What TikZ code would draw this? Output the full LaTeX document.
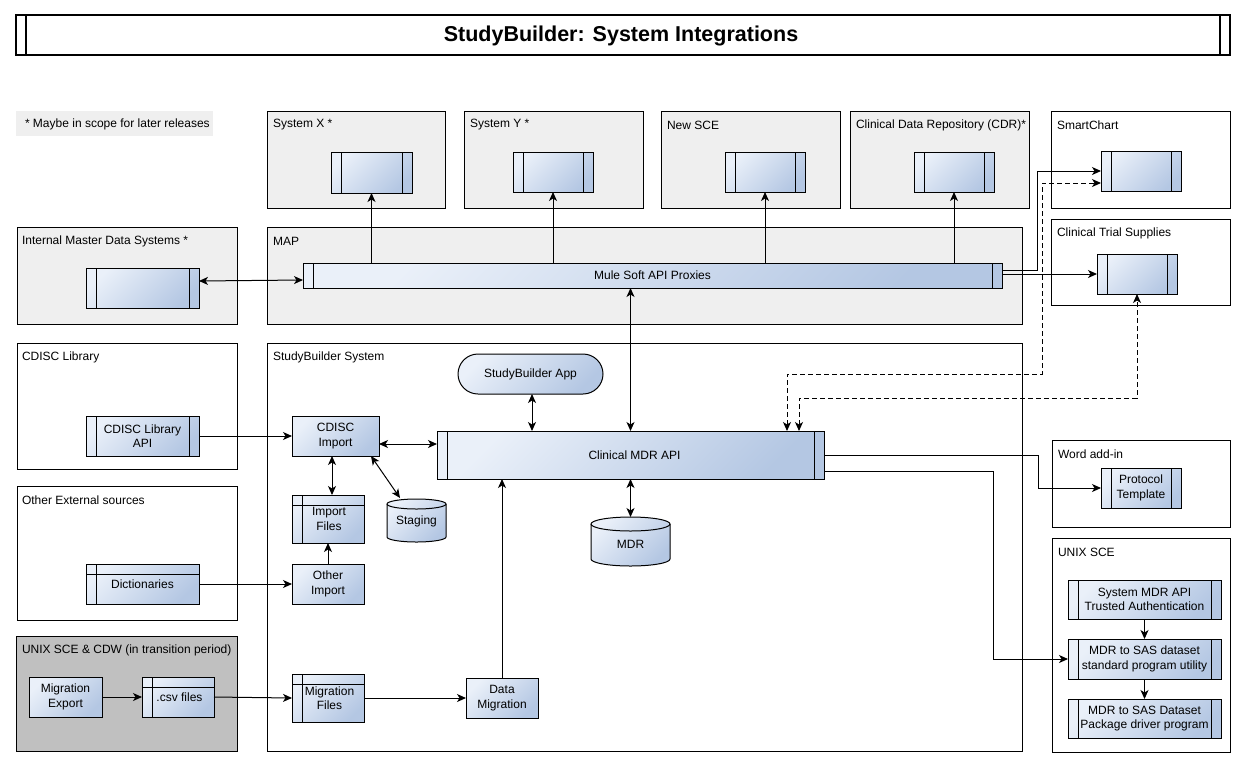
\documentclass[tikz,border=0pt]{standalone}
\usepackage{fontspec}
\setmainfont{Liberation Sans}
\usetikzlibrary{arrows.meta,calc}
\definecolor{compL}{RGB}{234,240,249}
\definecolor{compD}{RGB}{180,199,227}
\definecolor{boxgray}{RGB}{239,239,239}
\definecolor{unixgray}{RGB}{192,192,192}
\begin{document}
\begin{tikzpicture}[x=1pt,y=-1pt,
  every node/.style={font=\fontsize{12}{14.5}\selectfont, inner sep=0pt, outer sep=0pt},
  frame/.style={draw, line width=1pt},
  grayframe/.style={frame, fill=boxgray},
  lbl/.style={anchor=west, align=left},
  grad/.style={top color=compL, bottom color=compD, shading angle=45},
  proc/.style={draw, line width=1pt, grad, align=center, path picture={
     \draw[line width=1pt] ([xshift=10pt]path picture bounding box.north west) -- ([xshift=10pt]path picture bounding box.south west);
     \draw[line width=1pt] ([xshift=-10pt]path picture bounding box.north east) -- ([xshift=-10pt]path picture bounding box.south east);}},
  storebox/.style={draw, line width=1pt, grad, align=center, path picture={
     \draw[line width=1pt] ([xshift=10pt]path picture bounding box.north west) -- ([xshift=10pt]path picture bounding box.south west);
     \draw[line width=1pt] ([yshift=-10pt]path picture bounding box.north west) -- ([yshift=-10pt]path picture bounding box.north east);}},
  plainbox/.style={draw, line width=1pt, grad, align=center},
  stadium/.style={draw, line width=1pt, grad, align=center, rounded corners=20pt},
  >={Stealth[length=9pt,width=8pt,inset=2.5pt]},
  conn/.style={line width=1pt},
  dconn/.style={line width=1pt, dash pattern=on 5pt off 3pt}
]
\useasboundingbox (0,0) rectangle (1246,766);

% ---------- title ----------
\draw[line width=1.3pt] (16,15) rectangle (1230,55);
\draw[line width=1.3pt] (26,15) -- (26,55);
\draw[line width=1.3pt] (1220,15) -- (1220,55);
\node[font=\fontsize{21.5}{24}\selectfont\bfseries] (title) at (621,36) {StudyBuilder: System Integrations};

% ---------- note ----------
\fill[boxgray] (16,111) rectangle (213,136);
\node[lbl] (notetxt) at (25,124) {* Maybe in scope for later releases};

% ---------- containers ----------
\draw[grayframe] (267,111) rectangle (445,208);
\node[lbl] (lsx) at (273,125) {System X *};
\draw[grayframe] (464,111) rectangle (643,208);
\node[lbl] (lsy) at (470,125) {System Y *};
\draw[grayframe] (661,111) rectangle (840,208);
\node[lbl] (lnsce) at (667,125) {New SCE};
\draw[grayframe] (850,111) rectangle (1029,208);
\node[lbl] (lcdr) at (856,125) {Clinical Data Repository (CDR)*};
\draw[frame] (1051,111) rectangle (1230,208);
\node[lbl] (lsmart) at (1057,125) {SmartChart};
\draw[frame] (1051,219) rectangle (1230,305);
\node[lbl] (lcts) at (1057,233) {Clinical Trial Supplies};
\draw[grayframe] (17,227) rectangle (237,324);
\node[lbl] (limds) at (22,241) {Internal Master Data Systems *};
\draw[grayframe] (267,227) rectangle (1022,324);
\node[lbl] (lmap) at (273,241) {MAP};
\draw[frame] (17,343) rectangle (237,469);
\node[lbl] (lcdisc) at (22,357) {CDISC Library};
\draw[frame] (267,343) rectangle (1022,751);
\node[lbl] (lsb) at (273,357) {StudyBuilder System};
\draw[frame] (17,486) rectangle (237,620);
\node[lbl] (lother) at (22,500) {Other External sources};
\draw[frame, fill=unixgray] (16,636) rectangle (237,751);
\node[lbl] (lunixcdw) at (22,650) {UNIX SCE \& CDW (in transition period)};
\draw[frame] (1052,440) rectangle (1230,527);
\node[lbl] (lword) at (1058,454) {Word add-in};
\draw[frame] (1052,538) rectangle (1230,752);
\node[lbl] (lunix) at (1058,552) {UNIX SCE};

% ---------- components ----------
\node[proc, minimum width=81pt, minimum height=41pt] (sx) at (371.5,172.5) {};
\node[proc, minimum width=80pt, minimum height=40pt] (sy) at (553,172) {};
\node[proc, minimum width=80pt, minimum height=40pt] (nsce) at (765,172) {};
\node[proc, minimum width=80pt, minimum height=40pt] (cdr) at (954,172) {};
\node[proc, minimum width=80pt, minimum height=40pt] (smart) at (1141,171) {};
\node[proc, minimum width=80pt, minimum height=40pt] (cts) at (1137,274) {};
\node[proc, minimum width=113pt, minimum height=40pt] (imds) at (142.5,288) {};
\node[proc, minimum width=699pt, minimum height=25pt] (mule) at (652.5,275.5) {Mule Soft API Proxies};
\node[proc, minimum width=387pt, minimum height=48pt] (mdrapi) at (630.5,455) {\hspace*{8pt}Clinical MDR API};
\node[proc, minimum width=113pt, minimum height=40pt] (cdisclib) at (142.5,436) {CDISC Library\\API};
\node[proc, minimum width=80pt, minimum height=40pt] (proto) at (1141,488) {Protocol\\Template};
\node[proc, minimum width=153pt, minimum height=39pt] (sysmdr) at (1144.5,599.5) {System MDR API\\Trusted Authentication};
\node[proc, minimum width=153pt, minimum height=40pt] (sas1) at (1144.5,659) {MDR to SAS dataset\\standard program utility};
\node[proc, minimum width=153pt, minimum height=39pt] (sas2) at (1144.5,718.5) {MDR to SAS Dataset\\Package driver program};

\node[storebox, minimum width=72pt, minimum height=48pt] (impf) at (328,519) {\hspace*{2pt}Import\\\hspace*{2pt}Files};
\node[storebox, minimum width=113pt, minimum height=40pt] (dict) at (142.5,584) {\raisebox{-4pt}{Dictionaries}};
\node[storebox, minimum width=72pt, minimum height=40pt] (csv) at (178,697) {\raisebox{-2pt}{\hspace*{3pt}.csv files}};
\node[storebox, minimum width=72pt, minimum height=48pt] (migf) at (328,698) {\hspace*{3pt}Migration\\\hspace*{3pt}Files};

\node[plainbox, minimum width=87pt, minimum height=40pt] (cdisci) at (335.5,436) {CDISC\\Import};
\node[plainbox, minimum width=72pt, minimum height=40pt] (otheri) at (328,584) {Other\\Import};
\node[plainbox, minimum width=72pt, minimum height=40pt] (datamig) at (502,698) {Data\\Migration};
\node[plainbox, minimum width=73pt, minimum height=40pt] (migexp) at (65.5,697) {Migration\\Export};
\node[stadium, minimum width=145pt, minimum height=40pt] (sbapp) at (530.5,374) {StudyBuilder App};

% ---------- cylinders ----------
\draw[grad, line width=1pt] (387,504) -- (387,537) arc[start angle=180,end angle=360,x radius=29.5pt,y radius=5pt] -- (446,504) arc[start angle=0,end angle=180,x radius=29.5pt,y radius=5pt] -- cycle;
\draw[line width=1pt] (387,504) arc[start angle=180,end angle=360,x radius=29.5pt,y radius=5pt];
\node[minimum width=59pt, minimum height=43pt] (stg) at (416.5,520.5) {};
\node (stgtxt) at (416.5,521) {Staging};

\draw[grad, line width=1pt] (591,524) -- (591,559) arc[start angle=180,end angle=360,x radius=39.5pt,y radius=7pt] -- (670,524) arc[start angle=0,end angle=180,x radius=39.5pt,y radius=7pt] -- cycle;
\draw[line width=1pt] (591,524) arc[start angle=180,end angle=360,x radius=39.5pt,y radius=7pt];
\node[minimum width=79pt, minimum height=49pt] (mdr) at (630.5,541.5) {};
\node (mdrtxt) at (630.5,544) {MDR};

% ---------- connectors ----------
\draw[conn,<->] ([yshift=7pt]imds.east) -- ([yshift=-4.5pt]mule.west);
\draw[conn,->] (mule.north -| sx.south) -- (sx.south);
\draw[conn,->] (mule.north -| sy.south) -- (sy.south);
\draw[conn,->] (mule.north -| nsce.south) -- (nsce.south);
\draw[conn,->] (mule.north -| cdr.south) -- (cdr.south);
\draw[conn,->] ([yshift=5.5pt]mule.east) -- ++(35,0) |- (smart.west);
\draw[conn,->] (mule.east |- cts.west) -- (cts.west);
\draw[conn,<->] (mule.south -| mdrapi.north) -- (mdrapi.north);
\draw[dconn,<->] ([xshift=156.5pt]mdrapi.north) -- ++(0,-57) -| (1042,183) -- ([yshift=-12pt]smart.west);
\draw[dconn,<->] ([xshift=168.5pt]mdrapi.north) -- ++(0,-33) -| (cts.south);
\draw[conn,<->] ([xshift=1.5pt]sbapp.south) -- ([xshift=1.5pt]sbapp.south |- mdrapi.north);
\draw[conn,->] (cdisclib.east) -- (cdisci.west);
\draw[conn,<->] ([yshift=-8pt]cdisci.east) -- ([yshift=-8pt]cdisci.east -| mdrapi.west);
\draw[conn,<->] ([xshift=-3.5pt]cdisci.south) -- ([xshift=-3.5pt]cdisci.south |- impf.north);
\draw[conn,->] (otheri.north) -- (impf.south);
\draw[conn,<->] ([xshift=-8pt]cdisci.south east) -- ([xshift=-16.5pt,yshift=1pt]stg.north);
\draw[conn,<->] (mdrapi.south) -- (mdr.north);
\draw[conn,->] (dict.east) -- (otheri.west);
\draw[conn,->] (migexp.east) -- (csv.west);
\draw[conn,->] (csv.east) -- (migf.west);
\draw[conn,->] (migf.east) -- (datamig.west);
\draw[conn,->] (datamig.north) -- (datamig.north |- mdrapi.south);
\draw[conn,->] (mdrapi.east) -- ++(214,0) |- (proto.west);
\draw[conn,->] ([yshift=-16pt]mdrapi.east) -- ++(169,0) |- (sas1.west);
\draw[conn,->] (sysmdr.south) -- (sas1.north);
\draw[conn,->] (sas1.south) -- (sas2.north);
\end{tikzpicture}
\end{document}
